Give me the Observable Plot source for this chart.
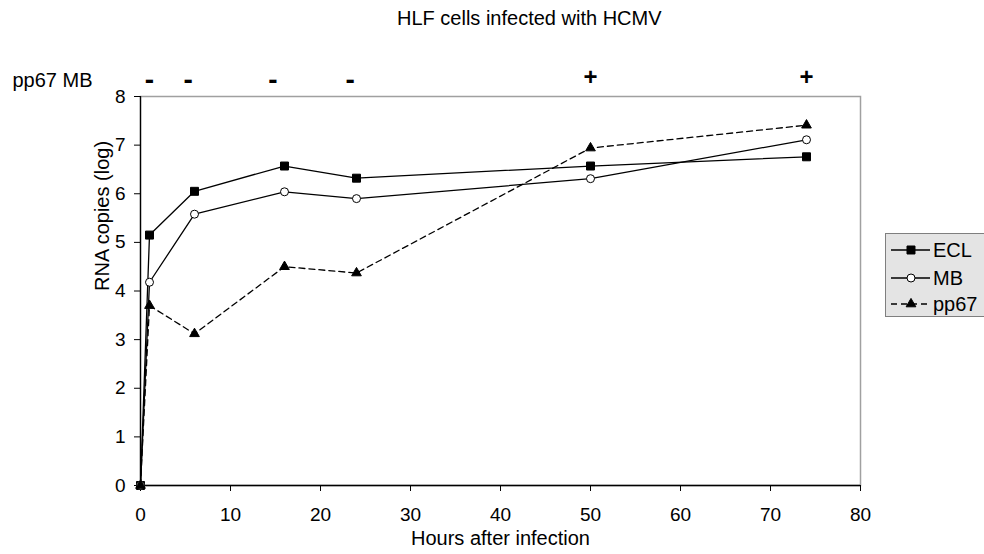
<!DOCTYPE html>
<html><head><meta charset="utf-8">
<script src="https://cdn.jsdelivr.net/npm/d3@7"></script>
<script src="https://cdn.jsdelivr.net/npm/@observablehq/plot@0.6"></script>
<style>
body{margin:0;background:#fff;font-family:"Liberation Sans",Arial,sans-serif;}
#wrap{position:relative;width:984px;height:554px;overflow:hidden;}
#title{position:absolute;left:397px;top:6px;font-size:20px;line-height:24px;color:#000;white-space:nowrap;}
#chart{position:absolute;left:0;top:40px;}
#legend{position:absolute;left:885px;top:233px;width:100px;height:84px;box-sizing:border-box;background:#e4e4e4;border:1px solid #7f7f7f;}
</style></head><body>
<div id="wrap"><div id="title">HLF cells infected with HCMV</div><div id="chart"></div><div id="legend"></div></div>
<script>
const hours = [0, 1, 6, 16, 24, 50, 74];
const ecl = [0, 5.15, 6.05, 6.57, 6.32, 6.57, 6.76];
const mb = [0, 4.18, 5.58, 6.04, 5.90, 6.31, 7.11];
const pp67 = [0, 3.70, 3.12, 4.50, 4.37, 6.94, 7.41];
const seriesNames = ["ECL", "MB", "pp67"];
const markerHours = [1, 5.3, 14.7, 23.3, 50, 74];
const markerSigns = ["-", "-", "-", "-", "+", "+"];
const xTicks = [0, 10, 20, 30, 40, 50, 60, 70, 80];
const yTicks = [0, 1, 2, 3, 4, 5, 6, 7, 8];

const seriesValues = [ecl, mb, pp67];
const rows = [];
seriesNames.forEach((s, i) => hours.forEach((h, j) => rows.push({series: s, hour: h, value: seriesValues[i][j]})));
const markers = markerHours.map((h, i) => ({hour: h, sign: markerSigns[i]}));

const styles = {
  ECL: {dash: null, symbol: "square", fill: "black", r: 4.5},
  MB: {dash: null, symbol: "circle", fill: "white", r: 4},
  pp67: {dash: "6,4", symbol: "triangle", fill: "black", r: 3.6}
};

const font = 19;
const marks = [
  Plot.frame({stroke: "#a0a0a0", strokeWidth: 1.5}),
  Plot.axisX({ticks: xTicks, tickSize: 6, tickPadding: 16, fontSize: font, label: null, stroke: "black"}),
  Plot.axisY({ticks: yTicks, tickSize: 6, tickPadding: 9, fontSize: font, label: null, stroke: "black"}),
  Plot.ruleX([0], {stroke: "black", strokeWidth: 1.3}),
  Plot.ruleY([0], {stroke: "black", strokeWidth: 1.3}),
  Plot.text(["RNA copies (log)"], {frameAnchor: "left", rotate: -90, dx: -38, fontSize: 20, fill: "black"}),
  Plot.text(["Hours after infection"], {frameAnchor: "bottom", dy: 59, fontSize: 20, fill: "black"}),
  Plot.text(["pp67 MB"], {frameAnchor: "top-left", textAnchor: "start", dx: -128, dy: -24, fontSize: 20, fill: "black"}),
  Plot.text(markers.filter(m => m.sign === "-"), {x: "hour", text: "sign", frameAnchor: "top", dy: -27, fontSize: 28, fontWeight: "bold", fill: "black"}),
  Plot.text(markers.filter(m => m.sign === "+"), {x: "hour", text: "sign", frameAnchor: "top", dy: -29, fontSize: 24, fontWeight: "bold", fill: "black"})
];
for (const s of seriesNames) {
  const st = styles[s];
  const d = rows.filter(r => r.series === s);
  marks.push(Plot.line(d, {x: "hour", y: "value", stroke: "black", strokeWidth: 1.3, strokeDasharray: st.dash}));
}
for (const s of seriesNames) {
  const st = styles[s];
  const d = rows.filter(r => r.series === s);
  marks.push(Plot.dot(d, {x: "hour", y: "value", symbol: () => st.symbol, r: st.r, fill: st.fill, stroke: "black", strokeWidth: 1}));
}

const chart = Plot.plot({
  width: 984, height: 514,
  marginLeft: 140, marginRight: 124, marginTop: 56, marginBottom: 69,
  style: {fontFamily: '"Liberation Sans", Arial, sans-serif', color: "black", background: "white"},
  x: {domain: [0, 80]},
  y: {domain: [0, 8]},
  symbol: {type: "identity"},
  marks
});
document.getElementById("chart").append(chart);

// legend
const leg = d3.select("#legend").append("svg").attr("width", 100).attr("height", 84)
  .style("position", "absolute").style("left", "-1px").style("top", "-1px");
const rowY = [17, 45, 71];
seriesNames.forEach((s, i) => {
  const st = styles[s];
  const g = leg.append("g").attr("transform", `translate(0,${rowY[i]})`);
  g.append("line").attr("x1", 6).attr("x2", 45).attr("y1", 0).attr("y2", 0)
    .attr("stroke", "black").attr("stroke-width", 1.3).attr("stroke-dasharray", st.dash);
  g.append("path").attr("transform", "translate(26,0)")
    .attr("d", d3.symbol(st.symbol === "square" ? d3.symbolSquare : st.symbol === "circle" ? d3.symbolCircle : d3.symbolTriangle, Math.PI * st.r * st.r)())
    .attr("fill", st.fill).attr("stroke", "black");
  g.append("text").attr("x", 48).attr("y", 0).attr("dy", "0.35em").attr("font-size", 20)
    .attr("font-family", '"Liberation Sans", Arial, sans-serif').text(s);
});
</script>
</body></html>
